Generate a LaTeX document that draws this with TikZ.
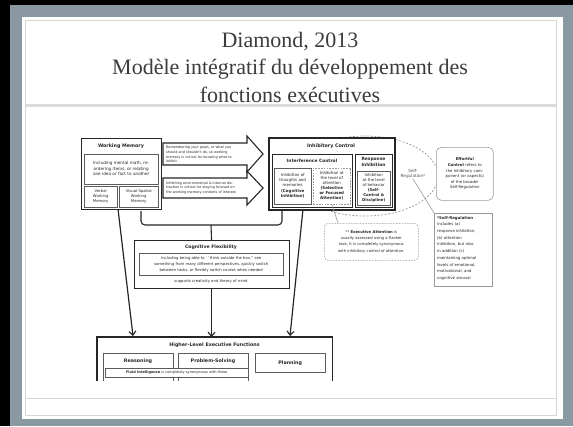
\documentclass[tikz,border=0pt]{standalone}
\usepackage{fontspec}
\setmainfont{Liberation Serif}
\newfontfamily\dfont{DejaVu Sans}
\usetikzlibrary{arrows.meta,shapes.geometric}
\definecolor{dk}{HTML}{262626}
\definecolor{gy}{HTML}{9A9A9A}
\definecolor{frameg}{HTML}{8A99A1}
\definecolor{lineg}{HTML}{D6D6D2}
\definecolor{sepg}{HTML}{DADCD9}
\definecolor{titlec}{HTML}{3C3C3C}
\begin{document}
\begin{tikzpicture}[x=1pt,y=-1pt,
  bx/.style={draw=dk, line width=1.1, fill=white, inner sep=0pt, anchor=north west},
  ib/.style={draw=dk!75, line width=0.45, fill=white, inner sep=0pt, anchor=north west},
  gb/.style={draw=gy, line width=0.6, dash pattern=on 1.6pt off 1.2pt, fill=white, inner sep=0pt, anchor=north west},
  shp/.style={draw=dk, line width=1.1, fill=white, line join=miter},
  tx/.style={inner sep=0pt, align=center, text=dk, font=\dfont\fontsize{4.2}{5.4}\selectfont},
  sm/.style={inner sep=0pt, align=left, anchor=west, text=dk, font=\dfont\fontsize{3.4}{4.6}\selectfont},
  hd/.style={inner sep=0pt, align=center, text=dk, font=\dfont\bfseries\fontsize{4.8}{5.6}\selectfont},
  conn/.style={draw=dk, line width=1.2, -{Straight Barb[length=4pt,width=7pt,line width=1.1pt]}},
  gline/.style={draw=gy, line width=0.6}]
\useasboundingbox (0,0) rectangle (573,426);
% slide frame
\fill[black] (0,0) rectangle (573,426);
\fill[frameg] (10,5) rectangle (573,426);
\fill[white] (22,17) rectangle (563,419);
\draw[lineg, line width=0.8] (25.5,20.5) rectangle (556.5,415.5);
\draw[sepg, line width=3.5] (25.5,105.5) -- (556.5,105.5);
\draw[lineg, line width=0.8] (25.5,398) -- (556.5,398);
% title
\node[align=center, text=titlec, font=\fontsize{22}{27.5}\selectfont, inner sep=0pt] (title) at (290,67)
  {Diamond, 2013\\Modèle intégratif du développement des\\fonctions exécutives};

\begin{scope}
\clip (60,120) rectangle (510,380.5);
% self-regulation ellipse (behind)
\node[draw=gy, line width=0.7, dash pattern=on 2pt off 1.6pt, ellipse, minimum width=146, minimum height=80, inner sep=0pt] (selfreg) at (365,176) {};

% Working memory
\node[bx, minimum width=80, minimum height=71] (wm) at (81,138) {};
\node[hd] (wmh) at (121,146) {Working Memory};
\node[ib, minimum width=74, minimum height=30] (wmi) at (84,153.5) {};
\node[tx] (wmit) at (wmi.center) {Including mental math, re-\\ordering items, or relating\\one idea or fact to another};
\node[ib, minimum width=33, minimum height=21] (wmv) at (84,186) {};
\node[tx, font=\dfont\fontsize{3.8}{5}\selectfont] (wmvt) at (wmv.center) {Verbal\\Working\\Memory};
\node[ib, minimum width=39, minimum height=21] (wmvs) at (119,186) {};
\node[tx, font=\dfont\fontsize{3.8}{5}\selectfont] (wmvst) at (wmvs.center) {Visual-Spatial\\Working\\Memory};

% big arrows
\draw[shp] (163,143) -- (247,143) -- (247,136) -- (263,154) -- (247,172) -- (247,165) -- (163,165) -- cycle;
\node[sm] (a1t) at (166,154.5) {Remembering your goals, or what you\\should and shouldn't do, so working\\memory is critical for knowing what to\\inhibit};
\draw[shp] (163,178) -- (247,178) -- (247,171) -- (263,188) -- (247,205) -- (247,198) -- (163,198) -- cycle;
\node[sm] (a2t) at (166,188) {Inhibiting environmental \& internal dis-\\traction is critical for staying focused on\\the working memory contents of interest};

% Inhibitory control
\node[bx, line width=1.6, minimum width=126, minimum height=72] (ic) at (268,137) {};
\node[hd] (ich) at (331,146) {Inhibitory Control};
\node[ib, line width=0.9, draw=dk, minimum width=80, minimum height=53] (intc) at (272,154) {};
\node[hd, font=\dfont\bfseries\fontsize{4.4}{5}\selectfont] (intch) at (312,160.5) {Interference Control};
\node[ib, minimum width=37, minimum height=36] (cogi) at (274,167.5) {};
\node[tx, font=\dfont\fontsize{4}{5.1}\selectfont] (cogit) at (cogi.center) {Inhibition of\\thoughts and\\memories\\\textbf{(Cognitive}\\\textbf{Inhibition)}};
\node[gb, minimum width=37, minimum height=36] (sela) at (313,167.5) {};
\node[tx, font=\dfont\fontsize{4}{5.1}\selectfont] (selat) at (sela.center) {Inhibition at\\the level of\\attention\\\textbf{(Selective}\\\textbf{or Focused}\\\textbf{Attention)}};
\node[ib, line width=0.9, draw=dk, minimum width=37, minimum height=53] (ri) at (355,154) {};
\node[hd, font=\dfont\bfseries\fontsize{4.4}{5.2}\selectfont] (rih) at (373.5,162) {Response\\Inhibition};
\node[ib, minimum width=33, minimum height=34] (rib) at (357,171) {};
\node[tx, font=\dfont\fontsize{3.9}{5}\selectfont] (ribt) at (rib.center) {Inhibition\\at the level\\of behavior\\\textbf{(Self-}\\\textbf{Control \&}\\\textbf{Discipline)}};

% self-regulation label
\node[tx, text=dk!80] (srl) at (413,174) {Self-\\Regulation*};

% effortful control
\node[draw=gy, line width=0.6, rounded corners=5, fill=white, anchor=north west, minimum width=57, minimum height=53, inner sep=0pt] (ec) at (436,147) {};
\node[tx, font=\dfont\fontsize{3.9}{5.6}\selectfont] (ect) at (ec.center) {\textbf{Effortful}\\\textbf{Control} refers to\\the inhibitory com-\\ponent (or aspects)\\of the broader\\Self-Regulation};

% self-regulation box
\node[draw=gy, line width=0.6, fill=white, anchor=north west, minimum width=58, minimum height=73, inner sep=0pt] (srb) at (434,213) {};
\node[tx, align=left, anchor=north west, font=\dfont\fontsize{3.9}{6.7}\selectfont] (srbt) at (437,216) {\textbf{*Self-Regulation}\\includes (a)\\response inhibition,\\(b) attention\\inhibition, but also\\in addition (c)\\maintaining optimal\\levels of emotional,\\motivational, and\\cognitive arousal};

% executive attention
\node[gb, rounded corners=4, minimum width=94, minimum height=37] (ea) at (324,223) {};
\node[tx, font=\dfont\fontsize{3.8}{6.2}\selectfont] (eat) at (ea.center) {** \textbf{Executive Attention} is\\usually assessed using a flanker\\task; it is completely synonymous\\with inhibitory control of attention.};

% grey connectors
\coordinate (eatop) at (338,223);
\draw[gline] (sela.south) -- (eatop);
\draw[gline] (srl.south) -- (srb.north west);

% cognitive flexibility
\node[bx, minimum width=155, minimum height=48] (cf) at (133.5,240) {};
\node[hd, font=\dfont\bfseries\fontsize{4.6}{5.6}\selectfont] (cfh) at (211,247.5) {Cognitive Flexibility};
\node[ib, minimum width=144, minimum height=22] (cfi) at (139,253) {};
\node[tx, font=\dfont\fontsize{3.8}{6.3}\selectfont] (cfit) at (cfi.center) {Including being able to ``think outside the box,'' see\\something from many different perspectives, quickly switch\\between tasks, or flexibly switch course when needed};
\node[tx, font=\dfont\fontsize{3.8}{5}\selectfont] (cfs) at (211,281.5) {supports creativity and theory of mind};

% bracket
\coordinate (brl) at (141,211);
\coordinate (brr) at (282,210);
\draw[dk, line width=1.1, rounded corners=4] (brl) -- (141,225) -- (282,225) -- (brr);
\coordinate (brm) at (211,225);
\draw[dk, line width=1.1] (brm) -- (cf.north);

% higher level EF
\node[anchor=north west, minimum width=235, minimum height=50, inner sep=0pt] (hl) at (97,337) {};
\draw[dk, line width=1.2] (hl.south west) -- (hl.north west) -- (hl.north east) -- (hl.south east);
\node[hd] (hlh) at (214.5,345.5) {Higher-Level Executive Functions};
\node[ib, minimum width=70, minimum height=30] (rea) at (103,353) {};
\node[hd] (reat) at (138,361.5) {Reasoning};
\node[ib, minimum width=70, minimum height=30] (ps) at (178,353) {};
\node[hd] (pst) at (213,361.5) {Problem-Solving};
\node[ib, minimum width=70, minimum height=19] (pl) at (255,353) {};
\node[hd] (plt) at (pl.center) {Planning};
\node[ib, minimum width=143, minimum height=9] (fl) at (105,368) {};
\node[tx, font=\dfont\fontsize{3.5}{4}\selectfont] (flt) at (fl.center) {\textbf{Fluid Intelligence} is completely synonymous with these};

% connectors to higher level
\coordinate (wmo) at (118,209);
\coordinate (t1) at (133,336);
\coordinate (ico) at (303,209);
\coordinate (t3) at (290,336);
\draw[conn] (wmo) -- (t1);
\draw[conn] (cf.south) -- (cf.south |- hl.north);
\draw[conn] (ico) -- (t3);
\end{scope}
\end{tikzpicture}
\end{document}
